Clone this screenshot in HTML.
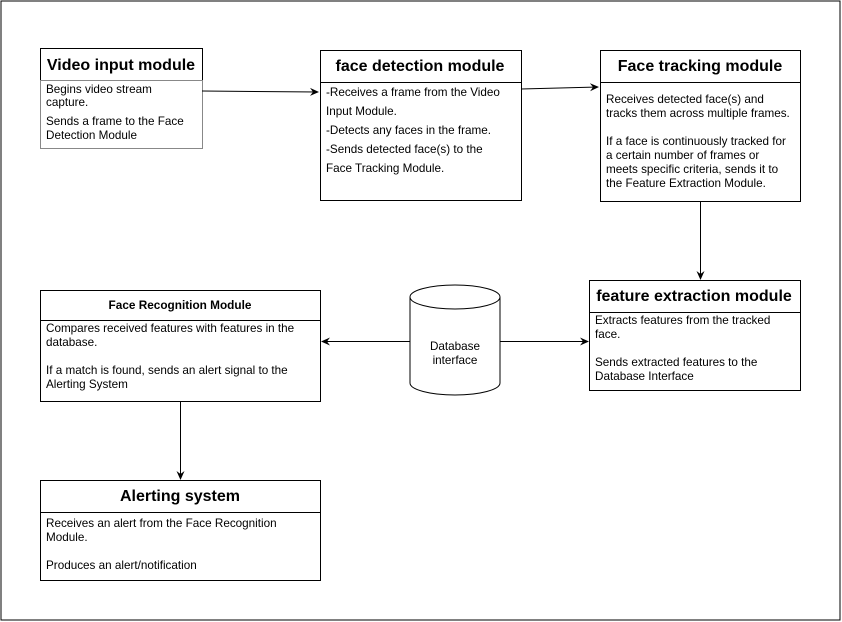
<!DOCTYPE html>
<html><head><style>body{margin:0;background:#fff}svg{display:block}</style></head><body>
<svg width="842" height="622" viewBox="0 0 842 622" xmlns="http://www.w3.org/2000/svg" font-family="Liberation Sans, Arial, sans-serif">
<defs><marker id="a" markerWidth="10" markerHeight="10" refX="8" refY="5" orient="auto" markerUnits="userSpaceOnUse"><path d="M0,1 L9,5 L0,9 L3,5 z" fill="#000"/></marker></defs>
<rect x="1" y="1" width="839" height="619" fill="#fff" stroke="#000" stroke-width="1"/>
<g fill="none" stroke="#000" stroke-width="1">
<rect x="40.5" y="48.5" width="162" height="32"/>
<rect x="40.5" y="80.5" width="162" height="68" stroke="#888"/>
<rect x="320.5" y="50.5" width="201" height="32"/>
<rect x="320.5" y="82.5" width="201" height="118"/>
<rect x="600.5" y="50.5" width="200" height="32"/>
<rect x="600.5" y="82.5" width="200" height="119"/>
<rect x="589.5" y="280.5" width="211" height="32"/>
<rect x="589.5" y="312.5" width="211" height="78"/>
<rect x="40.5" y="290.5" width="280" height="30"/>
<rect x="40.5" y="320.5" width="280" height="81"/>
<rect x="40.5" y="480.5" width="280" height="32"/>
<rect x="40.5" y="512.5" width="280" height="68"/>
<path d="M410,297 A45,12 0 0 1 500,297 L500,383 A45,12 0 0 1 410,383 Z" fill="#fff"/>
<path d="M410,297 A45,12 0 0 0 500,297"/>
<line x1="202" y1="91" x2="318" y2="92" marker-end="url(#a)"/>
<line x1="521" y1="89" x2="598" y2="87" marker-end="url(#a)"/>
<line x1="700.5" y1="201" x2="700.5" y2="279" marker-end="url(#a)"/>
<line x1="410" y1="341.5" x2="322" y2="341.5" marker-end="url(#a)"/>
<line x1="500" y1="341.5" x2="588" y2="341.5" marker-end="url(#a)"/>
<line x1="180.5" y1="401" x2="180.5" y2="479" marker-end="url(#a)"/>
</g>
<g font-weight="bold" font-size="16" text-anchor="middle" fill="#000">
<text x="121" y="70">Video input module</text>
<text x="420" y="71">face detection module</text>
<text x="700" y="71">Face tracking module</text>
<text x="694" y="301">feature extraction module</text>
<text x="180" y="501">Alerting system</text>
<text x="180" y="309" font-size="11.8">Face Recognition Module</text>
</g>
<g font-size="11.7" fill="#000">
<text x="46" y="93">Begins video stream</text>
<text x="46" y="106">capture.</text>
<text x="46" y="125">Sends a frame to the Face</text>
<text x="46" y="139">Detection Module</text>
<text x="326" y="96">-Receives a frame from the Video</text>
<text x="326" y="115">Input Module.</text>
<text x="326" y="134">-Detects any faces in the frame.</text>
<text x="326" y="153">-Sends detected face(s) to the</text>
<text x="326" y="172">Face Tracking Module.</text>
<text x="606" y="103">Receives detected face(s) and</text>
<text x="606" y="117">tracks them across multiple frames.</text>
<text x="606" y="145">If a face is continuously tracked for</text>
<text x="606" y="159">a certain number of frames or</text>
<text x="606" y="173">meets specific criteria, sends it to</text>
<text x="606" y="187">the Feature Extraction Module.</text>
<text x="595" y="324">Extracts features from the tracked</text>
<text x="595" y="338">face.</text>
<text x="595" y="366">Sends extracted features to the</text>
<text x="595" y="380">Database Interface</text>
<text x="46" y="332"> Compares received features with features in the</text>
<text x="46" y="346">database.</text>
<text x="46" y="374">If a match is found, sends an alert signal to the</text>
<text x="46" y="388">Alerting System</text>
<text x="46" y="527">Receives an alert from the Face Recognition</text>
<text x="46" y="541">Module.</text>
<text x="46" y="569">Produces an alert/notification</text>
<text x="455" y="350" text-anchor="middle">Database</text>
<text x="455" y="364" text-anchor="middle">interface</text>
</g>
</svg>
</body></html>
